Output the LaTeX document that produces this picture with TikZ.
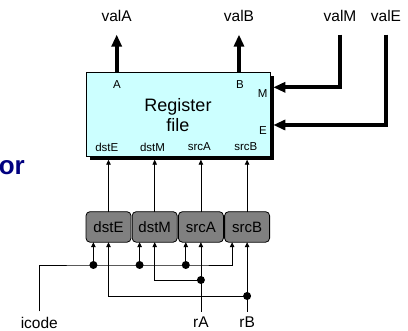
\documentclass[tikz,border=0pt]{standalone}
\usepackage{fontspec}
\setmainfont{Liberation Sans}
\usetikzlibrary{arrows.meta,positioning,shadows}
\definecolor{RegCyan}{HTML}{CCFFFF}
\definecolor{PipeGray}{HTML}{808080}
\definecolor{TitleNavy}{HTML}{000080}
\tikzset{
  regfile/.style={rectangle,draw=black,line width=0.8pt,fill=RegCyan,minimum width=184pt,minimum height=84pt,inner sep=0pt,outer sep=0pt,drop shadow={shadow xshift=3.5pt,shadow yshift=-3.5pt,fill=black,opacity=1}},
  pipebox/.style={rectangle,rounded corners=4pt,draw=black,line width=0.8pt,fill=PipeGray,minimum width=45pt,minimum height=30.5pt,inner sep=0pt,outer sep=0pt,font=\fontsize{15}{17}\selectfont},
  port/.style={inner sep=0pt,font=\fontsize{11.5}{13}\selectfont},
  sig/.style={inner sep=0pt,font=\fontsize{15.5}{17}\selectfont},
  wire/.style={-{Triangle[length=5pt,width=4.5pt]},line width=0.8pt},
  bus/.style={-{Triangle[length=12pt,width=10pt]},line width=4pt},
  dot/.style={circle,fill=black,inner sep=0pt,minimum size=8pt},
}
\begin{document}
\begin{tikzpicture}[x=1pt,y=-1pt]
  \useasboundingbox (0,0) rectangle (408,331);
  % ── Register file ──
  \node[regfile] (reg) at (178,114.7) {};
  \node[font=\fontsize{18}{20}\selectfont,align=center,inner sep=0pt] (regname) at (178,115.3) {Register\\file};
  \node[port] (portA) at (117,84.5) {A};
  \node[port] (portB) at (240,84.5) {B};
  \node[port] (portM) at (262.7,93.3) {M};
  \node[port] (portE) at (263,130.8) {E};
  \node[port] (pdstE) at (106.8,147) {dstE};
  \node[port] (pdstM) at (152.5,147) {dstM};
  \node[port] (psrcA) at (199.3,147) {srcA};
  \node[port] (psrcB) at (245.8,147) {srcB};
  \coordinate (regbot) at ([yshift=-3pt]reg.south);
  \coordinate (inM) at (273.3,87.3);
  \coordinate (inE) at (273.3,125);

  % ── Pipeline fields ──
  \node[pipebox, below right=55pt and 0pt of reg.south west] (dstE) {dstE};
  \node[pipebox, right=1.2pt of dstE] (dstM) {dstM};
  \node[pipebox, right=1.2pt of dstM] (srcA) {srcA};
  \node[pipebox, right=1.2pt of srcA] (srcB) {srcB};

  % ── Signals ──
  \node[sig] (valA) at (116.7,16) {valA};
  \node[sig] (valB) at (239,16) {valB};
  \node[sig] (valM) at (340,16) {valM};
  \node[sig] (valE) at (386,16) {valE};
  \node[sig] (icode) at (39.3,322.5) {icode};
  \node[sig] (rA) at (200.9,322.5) {rA};
  \node[sig] (rB) at (247.1,322.5) {rB};
  \node[font=\fontsize{26}{30}\selectfont\bfseries,text=TitleNavy,anchor=base east,inner sep=0pt] (title) at (25,175) {or};

  % ── Junctions ──
  \node[dot] (jE) at (93.4,265) {};
  \node[dot] (jM) at (139.6,265) {};
  \node[dot] (jA) at (185.8,265) {};
  \node[dot] (jrA) at (200.9,280) {};
  \node[dot] (jrB) at (247.1,296) {};

  % ── Wires ──
  \draw[wire] ([yshift=5.2pt]icode.north) |- (jE.center) -- (jM.center) -- (jA.center) -| ([xshift=-15pt]srcB.south);
  \draw[wire] (jE.center) -- (jE.center |- dstE.south);
  \draw[wire] (jM.center) -- (jM.center |- dstM.south);
  \draw[wire] (jA.center) -- (jA.center |- srcA.south);
  \draw[wire] ([yshift=5.2pt]rA.north) -- (rA.north |- srcA.south);
  \draw[wire] (jrA.center) -| (dstM.south);
  \draw[wire] ([yshift=5.2pt]rB.north) -- (rB.north |- srcB.south);
  \draw[wire] (jrB.center) -| (dstE.south);
  \foreach \f in {dstE,dstM,srcA,srcB}
    \draw[wire] (\f.north) -- (\f.north |- regbot);

  % ── Buses ──
  \draw[bus] (reg.north -| valA) -- ([yshift=-12.7pt]valA.south);
  \draw[bus] (reg.north -| valB) -- ([yshift=-12.7pt]valB.south);
  \draw[bus] ([yshift=-12.7pt]valM.south) |- (inM);
  \draw[bus] ([yshift=-12.7pt]valE.south) |- (inE);
\end{tikzpicture}
\end{document}
